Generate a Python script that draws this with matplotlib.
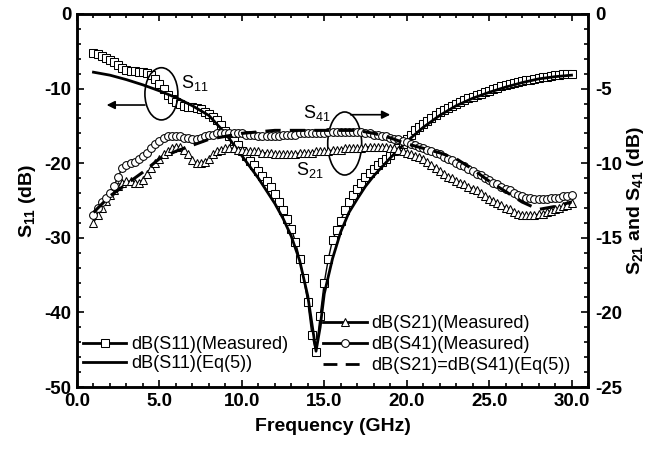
import numpy as np
import matplotlib
matplotlib.use("Agg")
import matplotlib.pyplot as plt
from matplotlib.patches import Ellipse
from matplotlib.ticker import MultipleLocator, FormatStrFormatter

plt.rcParams['font.family'] = ['Liberation Sans', 'DejaVu Sans']
plt.rcParams['mathtext.fontset'] = 'custom'
plt.rcParams['mathtext.rm'] = 'Liberation Sans'
plt.rcParams['mathtext.bf'] = 'Liberation Sans:bold'
plt.rcParams['mathtext.default'] = 'regular'
plt.rcParams['axes.unicode_minus'] = False

# ---------------- data ----------------
# measured data sampled every 0.25 GHz from 1.0 to 30.0 GHz
freq_meas = np.arange(1.0, 30.0001, 0.25)

s11_meas = [
    -5.2, -5.4, -5.6, -5.9,      # 1
    -6.2, -6.5, -6.9, -7.2,      # 2
    -7.5, -7.6, -7.7, -7.8,      # 3
    -7.8, -7.9, -8.2, -8.7,      # 4
    -9.4, -10.1, -10.8, -11.4,   # 5
    -11.8, -12.1, -12.3, -12.4,  # 6
    -12.5, -12.6, -12.8, -13.1,  # 7
    -13.4, -13.8, -14.2, -14.9,  # 8
    -15.7, -16.4, -17.0, -17.6,  # 9
    -18.4, -19.1, -19.7, -20.3,  # 10
    -21.0, -21.7, -22.4, -23.2,  # 11
    -24.1, -25.2, -26.3, -27.5,  # 12
    -28.8, -30.5, -32.8, -35.4,  # 13
    -38.6, -43.0, -45.3, -40.5,  # 14
    -36.0, -32.8, -30.3, -29.0,  # 15
    -27.7, -26.3, -25.2, -24.2,  # 16
    -23.4, -22.6, -21.9, -21.3,  # 17
    -20.8, -20.3, -19.8, -19.4,  # 18
    -18.9, -18.4, -17.9, -17.4,  # 19
    -16.8, -16.2, -15.6, -15.1,  # 20
    -14.7, -14.3, -14.0, -13.6,  # 21
    -13.2, -12.9, -12.6, -12.3,  # 22
    -12.0, -11.8, -11.5, -11.3,  # 23
    -11.1, -10.9, -10.7, -10.5,  # 24
    -10.3, -10.1, -9.9, -9.7,    # 25
    -9.5, -9.4, -9.2, -9.1,      # 26
    -9.0, -8.9, -8.8, -8.7,      # 27
    -8.6, -8.5, -8.4, -8.3,      # 28
    -8.2, -8.2, -8.1, -8.1,      # 29
    -8.0,                        # 30
]

s21_meas = [
    -14.0, -13.5, -13.0, -12.5,  # 1
    -12.1, -11.8, -11.5, -11.3,  # 2
    -11.2, -11.2, -11.3, -11.3,  # 3
    -11.1, -10.7, -10.3, -10.0,  # 4
    -9.7, -9.4, -9.2, -9.0,      # 5
    -8.9, -8.9, -9.1, -9.4,      # 6
    -9.8, -10.0, -10.0, -9.9,    # 7
    -9.7, -9.4, -9.2, -9.1,      # 8
    -9.0, -9.0, -9.0, -9.1,      # 9
    -9.1, -9.2, -9.2, -9.2,      # 10
    -9.2, -9.3, -9.3, -9.3,      # 11
    -9.4, -9.4, -9.4, -9.4,      # 12
    -9.4, -9.4, -9.3, -9.3,      # 13
    -9.3, -9.3, -9.2, -9.2,      # 14
    -9.2, -9.2, -9.1, -9.1,      # 15
    -9.1, -9.0, -9.0, -9.0,      # 16
    -9.0, -9.0, -8.9, -8.9,      # 17
    -8.9, -8.9, -8.9, -8.9,      # 18
    -9.0, -9.0, -9.1, -9.2,      # 19
    -9.3, -9.4, -9.5, -9.6,      # 20
    -9.7, -9.9, -10.1, -10.3,    # 21
    -10.5, -10.7, -10.9, -11.0,  # 22
    -11.2, -11.3, -11.4, -11.6,  # 23
    -11.7, -11.8, -12.0, -12.2,  # 24
    -12.4, -12.5, -12.7, -12.8,  # 25
    -13.0, -13.1, -13.3, -13.4,  # 26
    -13.5, -13.5, -13.5, -13.5,  # 27
    -13.4, -13.4, -13.3, -13.2,  # 28
    -13.1, -13.0, -12.9, -12.8,  # 29
    -12.7,                       # 30
]

s41_meas = [
    -13.5, -13.0, -12.6, -12.3,  # 1
    -12.0, -11.5, -10.9, -10.3,  # 2
    -10.1, -10.0, -9.9, -9.7,    # 3
    -9.5, -9.3, -9.0, -8.7,      # 4
    -8.5, -8.3, -8.2, -8.2,      # 5
    -8.2, -8.2, -8.3, -8.3,      # 6
    -8.4, -8.4, -8.3, -8.2,      # 7
    -8.1, -8.1, -8.0, -8.0,      # 8
    -8.0, -8.0, -8.0, -8.0,      # 9
    -8.0, -8.1, -8.1, -8.1,      # 10
    -8.2, -8.2, -8.2, -8.2,      # 11
    -8.2, -8.2, -8.1, -8.1,      # 12
    -8.1, -8.1, -8.0, -8.0,      # 13
    -8.0, -8.0, -8.0, -8.0,      # 14
    -8.0, -7.9, -7.9, -7.9,      # 15
    -7.9, -7.9, -7.9, -7.9,      # 16
    -7.9, -7.9, -8.0, -8.0,      # 17
    -8.1, -8.1, -8.2, -8.2,      # 18
    -8.3, -8.4, -8.4, -8.5,      # 19
    -8.6, -8.7, -8.8, -8.9,      # 20
    -9.0, -9.1, -9.2, -9.3,      # 21
    -9.4, -9.6, -9.7, -9.8,      # 22
    -10.0, -10.1, -10.2, -10.4,  # 23
    -10.5, -10.7, -10.8, -11.0,  # 24
    -11.1, -11.3, -11.4, -11.6,  # 25
    -11.7, -11.8, -12.0, -12.1,  # 26
    -12.2, -12.3, -12.3, -12.4,  # 27
    -12.4, -12.4, -12.4, -12.3,  # 28
    -12.3, -12.3, -12.2, -12.2,  # 29
    -12.1,                       # 30
]

# Eq.(5) curves
freq_eq11 = [1, 2, 3, 4, 5, 6, 7, 8, 9, 10, 11, 12, 12.5, 13, 13.5, 14, 14.25,
             14.5, 14.75, 15, 15.5, 16, 16.5, 17, 17.5, 18, 18.5, 19, 19.5, 20,
             21, 22, 23, 24, 25, 26, 27, 28, 29, 30]
s11_eq = [-7.8, -8.2, -8.8, -9.5, -10.3, -11.2, -12.3, -13.6, -16.0, -19.0,
          -22.0, -25.4, -27.4, -29.8, -33.0, -37.8, -41.5, -45.2, -42.0, -37.5,
          -32.8, -29.2, -26.6, -24.8, -23.1, -21.7, -20.5, -19.3, -18.2, -17.1,
          -15.2, -13.6, -12.3, -11.3, -10.5, -9.8, -9.2, -8.7, -8.4, -8.2]

freq_eq21 = [1, 2, 3, 4, 5, 6, 7, 8, 9, 10, 11, 12, 13, 14, 15, 16, 17, 18, 19,
             20, 21, 22, 23, 24, 25, 26, 27, 28, 29, 30]
s21_eq = [-13.3, -12.2, -11.4, -10.6, -9.7, -9.2, -8.8, -8.4, -8.2, -8.0,
          -7.9, -7.8, -7.8, -7.8, -7.8, -7.8, -7.8, -8.0, -8.3, -8.7,
          -9.0, -9.3, -9.7, -10.4, -11.2, -11.9, -12.6, -13.1, -12.9, -12.6]

labels_left = ['dB(S11)(Measured)', 'dB(S11)(Eq(5))']
labels_right = ['dB(S21)(Measured)', 'dB(S41)(Measured)', 'dB(S21)=dB(S41)(Eq(5))']

# ---------------- figure ----------------
fig = plt.figure(figsize=(6.55, 4.51), dpi=100)
ax = fig.add_axes([77/655, 1-387/451, (588-77)/655, (387-14)/451])
ax2 = ax.twinx()

ms = 5.6
mew = 0.75
l1, = ax.plot(freq_meas, s11_meas, color='k', lw=1.0, marker='s', ms=ms,
              mfc='white', mec='k', mew=mew, zorder=2)
l2, = ax.plot(freq_eq11, s11_eq, color='k', lw=2.0, zorder=3)

l3, = ax2.plot(freq_meas, s21_meas, color='k', lw=1.0, marker='^', ms=ms,
               mfc='white', mec='k', mew=mew, zorder=2)
l4, = ax2.plot(freq_meas, s41_meas, color='k', lw=1.0, marker='o', ms=ms,
               mfc='white', mec='k', mew=mew, zorder=2)
l5, = ax2.plot(freq_eq21, s21_eq, color='k', lw=2.2, ls=(0, (5, 3)), zorder=3)

ax.set_xlim(0, 31)
ax.set_ylim(-50, 0)
ax2.set_ylim(-25, 0)

ax.xaxis.set_major_locator(MultipleLocator(5))
ax.xaxis.set_minor_locator(MultipleLocator(1))
ax.xaxis.set_major_formatter(FormatStrFormatter('%.1f'))
ax.yaxis.set_major_locator(MultipleLocator(10))
ax.yaxis.set_minor_locator(MultipleLocator(2))
ax2.yaxis.set_major_locator(MultipleLocator(5))
ax2.yaxis.set_minor_locator(MultipleLocator(1))

for a in (ax, ax2):
    for s in a.spines.values():
        s.set_linewidth(1.8)
ax.tick_params(which='both', direction='in', top=True, right=False, width=1.2)
ax.tick_params(which='major', length=5, labelsize=13.5, pad=4)
ax.tick_params(which='minor', length=3)
ax2.tick_params(which='both', direction='in', width=1.2)
ax2.tick_params(which='major', length=5, labelsize=13.5, pad=5)
ax2.tick_params(which='minor', length=3)
for lab in ax.get_xticklabels() + ax.get_yticklabels() + ax2.get_yticklabels():
    lab.set_fontweight('bold')

ax.set_xlabel('Frequency (GHz)', fontsize=14, fontweight='bold', labelpad=6)
ax.set_ylabel('S$_{11}$ (dB)', fontsize=14, fontweight='bold', labelpad=5)
ax2.set_ylabel('S$_{21}$ and S$_{41}$ (dB)', fontsize=14, fontweight='bold', labelpad=2)

# annotations
ax.add_patch(Ellipse((5.12, -10.7), 2.0, 7.0, fill=False, ec='k', lw=1.2, zorder=4))
ax.annotate('', xy=(1.8, -12.2), xytext=(4.12, -12.2),
            arrowprops=dict(arrowstyle='-|>', color='k', lw=1.2,
                            mutation_scale=12, shrinkA=0, shrinkB=0))
ax.text(6.3, -9.9, 'S$_{11}$', fontsize=13, va='baseline', ha='left')

ax.add_patch(Ellipse((16.24, -17.36), 2.06, 8.45, fill=False, ec='k', lw=1.2, zorder=4))
ax.annotate('', xy=(19.0, -13.5), xytext=(16.6, -13.5),
            arrowprops=dict(arrowstyle='-|>', color='k', lw=1.2,
                            mutation_scale=12, shrinkA=0, shrinkB=0))
ax.text(13.7, -13.9, 'S$_{41}$', fontsize=13, va='baseline', ha='left')
ax.text(13.3, -21.6, 'S$_{21}$', fontsize=13, va='baseline', ha='left')

leg1 = ax.legend([l1, l2], labels_left, loc='lower left',
                 bbox_to_anchor=(0.005, 0.03), frameon=False, fontsize=13,
                 handlelength=2.4, handletextpad=0.25, labelspacing=0.12,
                 borderaxespad=0, borderpad=0.2)
leg2 = ax2.legend([l3, l4, l5], labels_right, loc='lower left',
                  bbox_to_anchor=(0.475, 0.025), frameon=False, fontsize=13,
                  handlelength=2.4, handletextpad=0.25, labelspacing=0.22,
                  borderaxespad=0, borderpad=0.2)
for h in leg1.get_lines() + leg2.get_lines():
    h.set_linewidth(2.0)

fig.savefig('out.png', dpi=100)
